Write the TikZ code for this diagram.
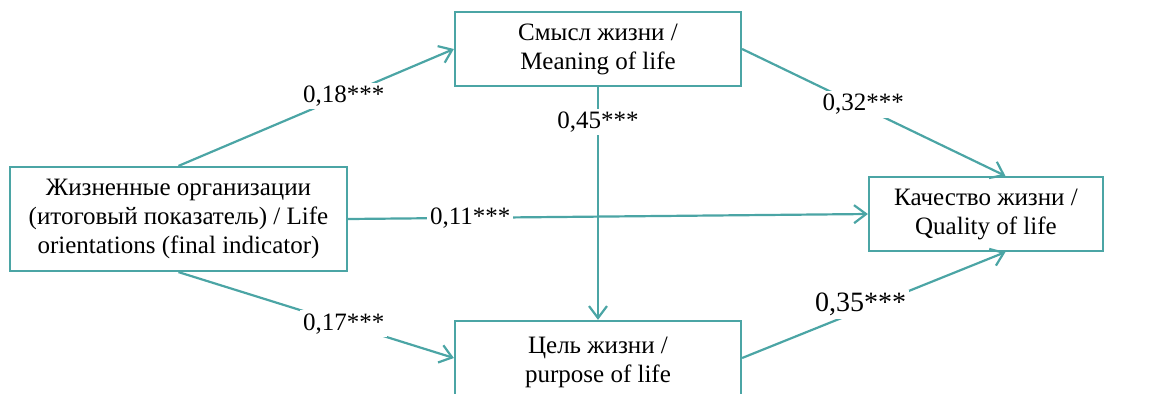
\documentclass[tikz,border=0pt]{standalone}
\usepackage{fontspec}
\setmainfont{Liberation Serif}
\usetikzlibrary{arrows.meta}
\definecolor{tealline}{RGB}{75,165,165}

\begin{document}
\begin{tikzpicture}[x=0.5pt,y=-0.5pt,
 box/.style={draw=tealline, line width=1.1pt, align=center, inner sep=0pt, font=\fontsize{12.5}{14.5}\selectfont},
 link/.style={draw=tealline, line width=1.1pt, -{Straight Barb[length=6pt,width=9pt]}},
 coef/.style={fill=white, inner sep=1.5pt, font=\fontsize{12.5}{14}\selectfont}]

\useasboundingbox (0,0) rectangle (1153,393);
\clip (0,0) rectangle (1153,393);

% boxes
\node[box, minimum width=168.5pt, minimum height=52pt] (lo) at (178.5,219) {Жизненные организации\\(итоговый показатель) / Life\\orientations (final indicator)};
\node[box, minimum width=143pt, minimum height=37pt] (ml) at (598,49) {Смысл жизни /\\Meaning of life};
\node[box, minimum width=143pt, minimum height=41pt] (pl) at (598,362) {Цель жизни /\\purpose of life};
\node[box, minimum width=117pt, minimum height=37pt] (ql) at (986,214) {Качество жизни /\\Quality of life};

% paths
\draw[link] (lo.north) -- (ml.west) node[coef, pos=0.6] {0,18***};
\draw[link] (ml.east) -- (ql.63) node[coef, pos=0.46, yshift=1.5pt] {0,32***};
\draw[link] (lo.east) -- (ql.west) node[coef, pos=0.235] {0,11***};
\draw[link] (ml.south) -- (pl.north) node[coef, pos=0.15] {0,45***};
\draw[link] (lo.south) -- ([yshift=2pt]pl.west) node[coef, pos=0.6] {0,17***};
\draw[link] ([yshift=2pt]pl.east) -- (ql.-63) node[coef, pos=0.45, yshift=3pt, font=\fontsize{14}{16}\selectfont] {0,35***};

\end{tikzpicture}
\end{document}
